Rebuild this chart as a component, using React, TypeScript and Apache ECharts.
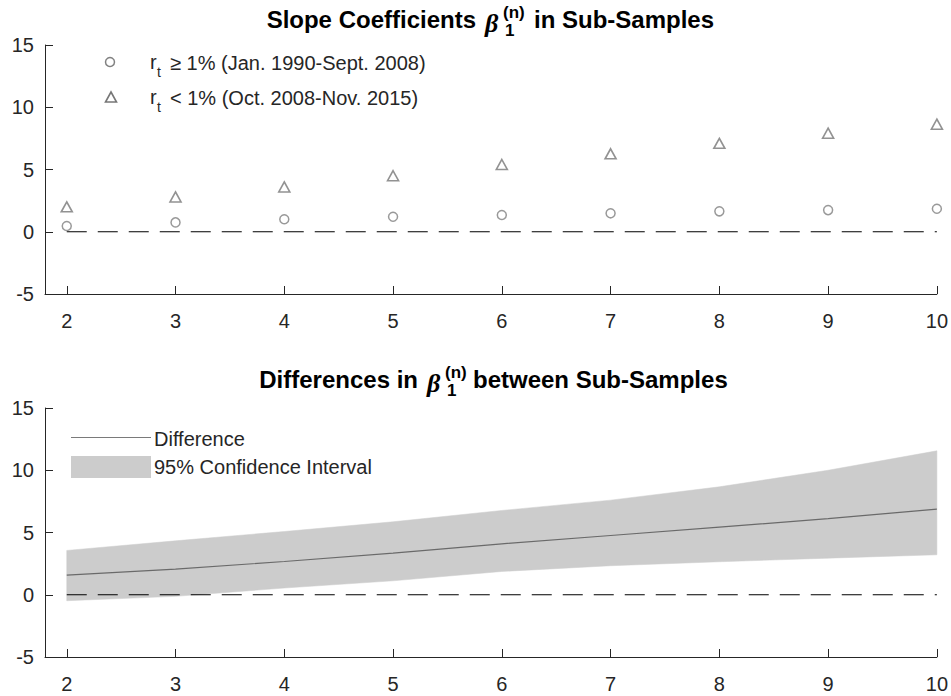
import React, { useEffect, useRef } from "react";
import * as echarts from "echarts";

const maturities = [2, 3, 4, 5, 6, 7, 8, 9, 10];
const betaHigh = [0.46, 0.75, 1.0, 1.2, 1.34, 1.48, 1.64, 1.74, 1.85];
const betaLow = [2.0, 2.8, 3.6, 4.5, 5.4, 6.26, 7.1, 7.92, 8.64];
const diff = [1.58, 2.06, 2.67, 3.35, 4.09, 4.76, 5.43, 6.12, 6.88];
const ciUpper = [3.56, 4.33, 5.08, 5.86, 6.77, 7.6, 8.67, 10.0, 11.56];
const ciLower = [-0.48, -0.13, 0.54, 1.12, 1.87, 2.33, 2.65, 2.94, 3.21];
const xTicks = [2, 3, 4, 5, 6, 7, 8, 9, 10];
const zeroLine = [[2, 0], [10, 0]];

const FONT = "'Liberation Sans', Arial, Helvetica, sans-serif";
const SERIF = "'Liberation Serif', 'DejaVu Serif', serif";
const AX = "#262626";
const MARK = "#808080";

export default function App() {
  const ref = useRef<HTMLDivElement>(null);
  useEffect(() => {
    if (!ref.current) return;
    const chart = echarts.init(ref.current, undefined, { renderer: "svg" });

    const xAxisBase = (gi: number) => ({
      type: "value",
      gridIndex: gi,
      min: 1.8,
      max: 10,
      axisLine: { show: true, onZero: false, lineStyle: { color: AX, width: 1 } },
      axisTick: { show: true, inside: true, length: 8, customValues: xTicks, lineStyle: { color: AX } },
      axisLabel: { fontSize: 20, color: AX, fontFamily: FONT, margin: 17, customValues: xTicks },
      splitLine: { show: false },
    });
    const yAxisBase = (gi: number) => ({
      type: "value",
      gridIndex: gi,
      min: -5,
      max: 15,
      interval: 5,
      axisLine: { show: true, onZero: false, lineStyle: { color: AX, width: 1 } },
      axisTick: { show: true, inside: true, length: 8, lineStyle: { color: AX } },
      axisLabel: { fontSize: 20, color: AX, fontFamily: FONT, margin: 11 },
      splitLine: { show: false },
    });

    const dashed = { color: "#000", width: 1.2, type: [20, 11] };

    const titleText = (x: number, y: number, text: string, opts: any = {}) => ({
      type: "text",
      x,
      y,
      style: {
        text,
        fontFamily: FONT,
        fontSize: 24,
        fontWeight: "bold",
        fill: "#000",
        verticalAlign: "middle",
        ...opts,
      },
    });
    const plainText = (x: number, y: number, text: string, size = 20) => ({
      type: "text",
      x,
      y,
      style: { text, fontFamily: FONT, fontSize: size, fill: AX, verticalAlign: "middle" },
    });

    const option: any = {
      animation: false,
      backgroundColor: "#fff",
      grid: [
        { left: 45, top: 45, width: 892, height: 249 },
        { left: 45, top: 408, width: 892, height: 249 },
      ],
      xAxis: [xAxisBase(0), xAxisBase(1)],
      yAxis: [yAxisBase(0), yAxisBase(1)],
      series: [
        {
          type: "line",
          xAxisIndex: 0,
          yAxisIndex: 0,
          data: zeroLine,
          showSymbol: false,
          symbol: "none",
          lineStyle: dashed,
          z: 1,
        },
        {
          name: "high",
          type: "scatter",
          xAxisIndex: 0,
          yAxisIndex: 0,
          data: maturities.map((m, i) => [m, betaHigh[i]]),
          symbol: "circle",
          symbolSize: 9,
          itemStyle: { color: "rgba(0,0,0,0)", borderColor: MARK, borderWidth: 1.5 },
          z: 3,
        },
        {
          name: "low",
          type: "scatter",
          xAxisIndex: 0,
          yAxisIndex: 0,
          data: maturities.map((m, i) => [m, betaLow[i]]),
          symbol: "triangle",
          symbolSize: [11, 10],
          itemStyle: { color: "rgba(0,0,0,0)", borderColor: "#777777", borderWidth: 1.6 },
          z: 3,
        },
        {
          type: "custom",
          xAxisIndex: 1,
          yAxisIndex: 1,
          data: maturities.map((m, i) => [m, ciLower[i], ciUpper[i]]),
          renderItem: (params: any, api: any) => {
            if (params.dataIndex !== 0) return null;
            const up = maturities.map((m, i) => api.coord([m, ciUpper[i]]));
            const lo = maturities.map((m, i) => api.coord([m, ciLower[i]])).reverse();
            return {
              type: "polygon",
              shape: { points: up.concat(lo) },
              style: { fill: "#cccccc", stroke: "#cccccc", lineWidth: 0.5 },
            };
          },
          z: 1,
        },
        {
          type: "line",
          xAxisIndex: 1,
          yAxisIndex: 1,
          data: zeroLine,
          showSymbol: false,
          symbol: "none",
          lineStyle: dashed,
          z: 2,
        },
        {
          name: "Difference",
          type: "line",
          xAxisIndex: 1,
          yAxisIndex: 1,
          data: maturities.map((m, i) => [m, diff[i]]),
          showSymbol: false,
          symbol: "none",
          lineStyle: { color: "#6a6a6a", width: 1.2 },
          z: 3,
        },
      ],
      graphic: [
        // top title
        titleText(476, 19, "Slope Coefficients", { align: "right" }),
        titleText(485, 23, "β", { fontFamily: SERIF, fontStyle: "italic", fontSize: 26 }),
        titleText(503, 12, "(n)", { fontSize: 17 }),
        titleText(505, 30, "1", { fontSize: 17 }),
        titleText(534, 19, "in Sub-Samples"),
        // bottom title
        titleText(418, 379, "Differences in", { align: "right" }),
        titleText(427, 383, "β", { fontFamily: SERIF, fontStyle: "italic", fontSize: 26 }),
        titleText(445, 372, "(n)", { fontSize: 17 }),
        titleText(447, 390, "1", { fontSize: 17 }),
        titleText(473, 379, "between Sub-Samples"),
        // top legend
        { type: "circle", shape: { cx: 110, cy: 62, r: 4.5 }, style: { fill: "none", stroke: MARK, lineWidth: 1.5 } },
        { type: "polygon", shape: { points: [[111, 92], [116.5, 102], [105.5, 102]] }, style: { fill: "none", stroke: "#777777", lineWidth: 1.6 } },
        plainText(150, 62, "r"),
        plainText(157, 72, "t", 14),
        plainText(170, 63, "≥ 1% (Jan. 1990-Sept. 2008)"),
        plainText(150, 97, "r"),
        plainText(157, 107, "t", 14),
        plainText(170, 98, "< 1% (Oct. 2008-Nov. 2015)"),
        // bottom legend
        { type: "line", shape: { x1: 71, y1: 437.5, x2: 151, y2: 437.5 }, style: { stroke: "#7a7a7a", lineWidth: 1 } },
        { type: "rect", shape: { x: 71, y: 456, width: 80, height: 22 }, style: { fill: "#cccccc" } },
        plainText(154, 439, "Difference"),
        plainText(154, 467, "95% Confidence Interval"),
      ],
    };
    chart.setOption(option);
    return () => chart.dispose();
  }, []);
  return (
    <div
      ref={ref}
      style={{ position: "absolute", left: 0, top: 0, width: 951, height: 696, background: "#fff" }}
    />
  );
}
